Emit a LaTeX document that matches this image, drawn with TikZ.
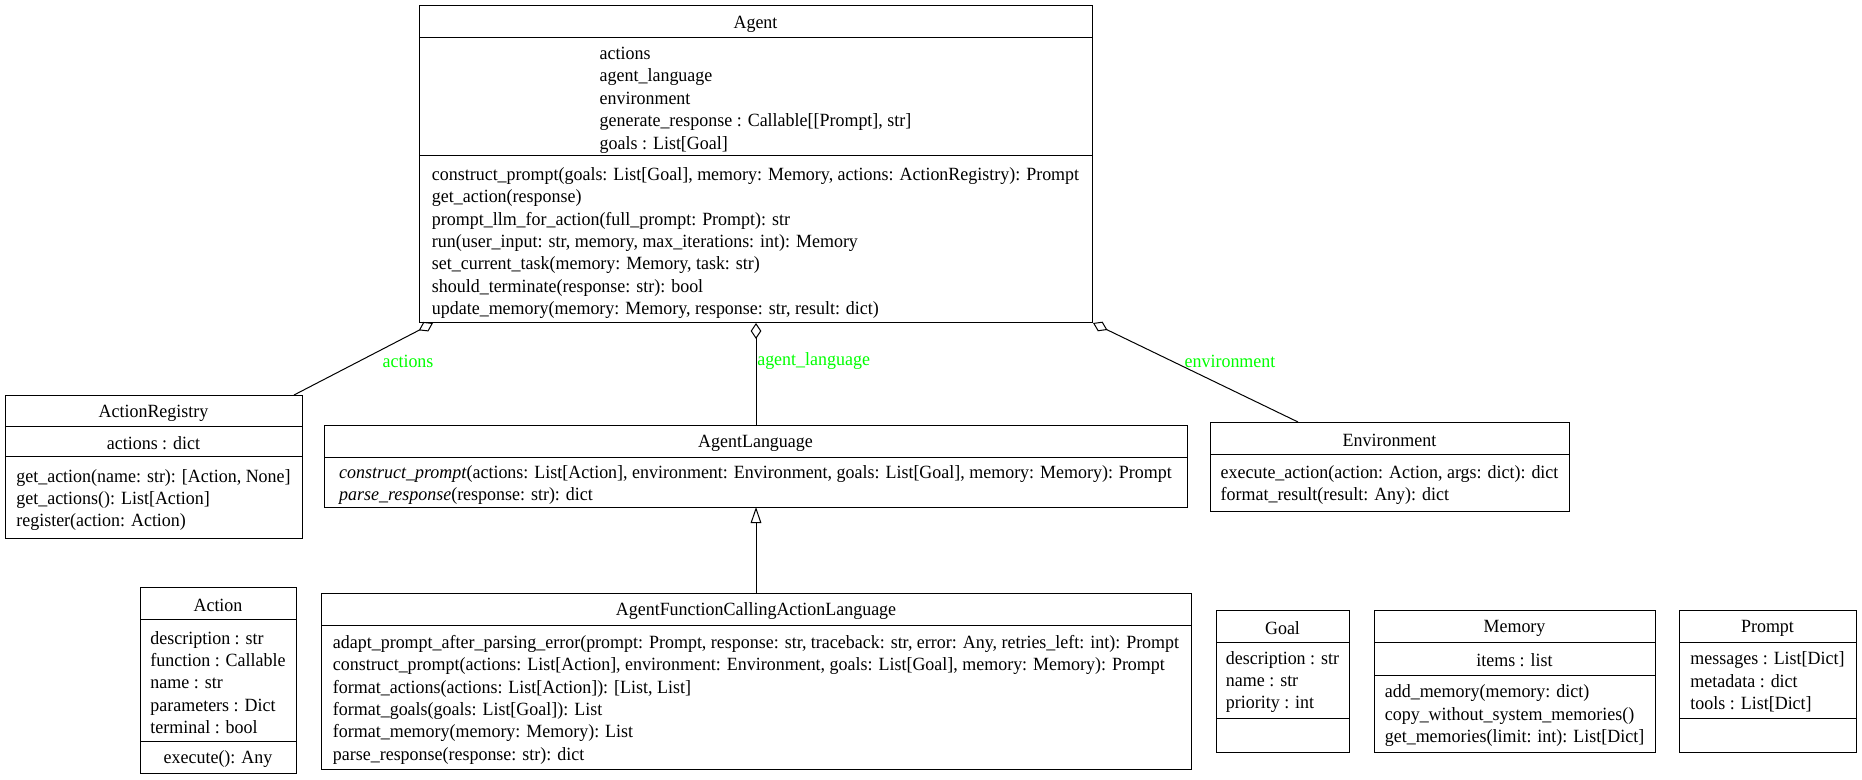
\documentclass[tikz,border=0pt]{standalone}
\usepackage{fontspec}
\setmainfont[FakeStretch=0.962]{Liberation Serif}
\usetikzlibrary{arrows.meta,fit}

\definecolor{lblgreen}{HTML}{00FF00}

\tikzset{
  umlbox/.style={draw, line width=0.75pt, inner sep=0pt},
  sep/.style={line width=0.75pt},
  ctitle/.style={inner sep=0pt, yshift=-1.6pt, font=\fontsize{14}{16.8}\selectfont},
  members/.style={inner sep=0pt, yshift=-1.6pt, align=left, font=\fontsize{14}{16.8}\selectfont},
  elabel/.style={inner sep=0pt, text=lblgreen, font=\fontsize{14}{16.8}\selectfont},
  aggr/.style={line width=0.75pt, -{Diamond[open, length=12pt, width=8pt]}},
  inherit/.style={line width=0.75pt, -{Triangle[open, length=12pt, width=8pt]}},
}

\begin{document}
\begin{tikzpicture}[x=0.75pt, y=-0.75pt]
\useasboundingbox (0,0) rectangle (1862,780);

% ---------------- Agent ----------------
\node[umlbox, fit={(419,6) (1092,323)}] (agent) {};
\draw[sep] (419,38) -- (1092,38);
\draw[sep] (419,156) -- (1092,156);
\node[ctitle] (agent-t) at (755.5,22) {Agent};
\node[members] (agent-a) at (755.5,98) {actions\\agent\_language\\environment\\generate\_response : Callable[[Prompt], str]\\goals : List[Goal]};
\node[members] (agent-m) at (755.5,241) {construct\_prompt(goals: List[Goal], memory: Memory, actions: ActionRegistry): Prompt\\get\_action(response)\\prompt\_llm\_for\_action(full\_prompt: Prompt): str\\run(user\_input: str, memory, max\_iterations: int): Memory\\set\_current\_task(memory: Memory, task: str)\\should\_terminate(response: str): bool\\update\_memory(memory: Memory, response: str, result: dict)};

% ---------------- ActionRegistry ----------------
\node[umlbox, fit={(5,395) (302,538)}] (actreg) {};
\draw[sep] (5,426) -- (302,426);
\draw[sep] (5,456) -- (302,456);
\node[ctitle] (actreg-t) at (153.5,411) {ActionRegistry};
\node[members] (actreg-a) at (153.5,441) {actions : dict};
\node[members] (actreg-m) at (153.5,498) {get\_action(name: str): [Action, None]\\get\_actions(): List[Action]\\register(action: Action)};

% ---------------- AgentLanguage ----------------
\node[umlbox, fit={(324,425) (1187,507)}] (lang) {};
\draw[sep] (324,457) -- (1187,457);
\node[ctitle] (lang-t) at (755.5,441) {AgentLanguage};
\node[members] (lang-m) at (755.5,483) {\textit{construct\_prompt}(actions: List[Action], environment: Environment, goals: List[Goal], memory: Memory): Prompt\\\textit{parse\_response}(response: str): dict};

% ---------------- Environment ----------------
\node[umlbox, fit={(1210,422) (1569,511)}] (env) {};
\draw[sep] (1210,454) -- (1569,454);
\node[ctitle] (env-t) at (1389.5,438) {Environment};
\node[members] (env-m) at (1389.5,483) {execute\_action(action: Action, args: dict): dict\\format\_result(result: Any): dict};

% ---------------- Action ----------------
\node[umlbox, fit={(140,587) (296,773)}] (action) {};
\draw[sep] (140,619.5) -- (296,619.5);
\draw[sep] (140,741) -- (296,741);
\node[ctitle] (action-t) at (218,603) {Action};
\node[members] (action-a) at (218,680.5) {description : str\\function : Callable\\name : str\\parameters : Dict\\terminal : bool};
\node[members] (action-m) at (218,757) {execute(): Any};

% ---------------- AgentFunctionCallingActionLanguage ----------------
\node[umlbox, fit={(321,593) (1191,769)}] (fcal) {};
\draw[sep] (321,625) -- (1191,625);
\node[ctitle] (fcal-t) at (756,609) {AgentFunctionCallingActionLanguage};
\node[members] (fcal-m) at (756,697.5) {adapt\_prompt\_after\_parsing\_error(prompt: Prompt, response: str, traceback: str, error: Any, retries\_left: int): Prompt\\construct\_prompt(actions: List[Action], environment: Environment, goals: List[Goal], memory: Memory): Prompt\\format\_actions(actions: List[Action]): [List, List]\\format\_goals(goals: List[Goal]): List\\format\_memory(memory: Memory): List\\parse\_response(response: str): dict};

% ---------------- Goal ----------------
\node[umlbox, fit={(1216,610) (1349,752)}] (goal) {};
\draw[sep] (1216,642) -- (1349,642);
\draw[sep] (1216,718) -- (1349,718);
\node[ctitle] (goal-t) at (1282.5,626) {Goal};
\node[members] (goal-a) at (1282.5,680) {description : str\\name : str\\priority : int};

% ---------------- Memory ----------------
\node[umlbox, fit={(1374,610) (1655,752)}] (memory) {};
\draw[sep] (1374,642) -- (1655,642);
\draw[sep] (1374,675) -- (1655,675);
\node[ctitle] (memory-t) at (1514.5,626) {Memory};
\node[members] (memory-a) at (1514.5,658.5) {items : list};
\node[members] (memory-m) at (1514.5,713.5) {add\_memory(memory: dict)\\copy\_without\_system\_memories()\\get\_memories(limit: int): List[Dict]};

% ---------------- Prompt ----------------
\node[umlbox, fit={(1679,610) (1856,752)}] (prompt) {};
\draw[sep] (1679,642) -- (1856,642);
\draw[sep] (1679,718) -- (1856,718);
\node[ctitle] (prompt-t) at (1767.5,626) {Prompt};
\node[members] (prompt-a) at (1767.5,680) {messages : List[Dict]\\metadata : dict\\tools : List[Dict]};

% ---------------- Relations ----------------
\coordinate (actreg-top) at (294,395);
\coordinate (agent-bl) at (433,323);
\coordinate (lang-top) at (756,425);
\coordinate (agent-bm) at (756,323);
\coordinate (env-top) at (1298,422);
\coordinate (agent-br) at (1093,323);
\coordinate (fcal-top) at (756,593);
\coordinate (lang-bot) at (756,507);

\draw[aggr] (actreg-top) -- (agent-bl);
\draw[aggr] (lang-top) -- (agent-bm);
\draw[aggr] (env-top) -- (agent-br);
\draw[inherit] (fcal-top) -- (lang-bot);

\node[elabel] (lbl-actions) at (408,361) {actions};
\node[elabel, anchor=west] (lbl-lang) at (757,361) {agent\_language};
\node[elabel] (lbl-env) at (1230,361) {environment};
\end{tikzpicture}
\end{document}
